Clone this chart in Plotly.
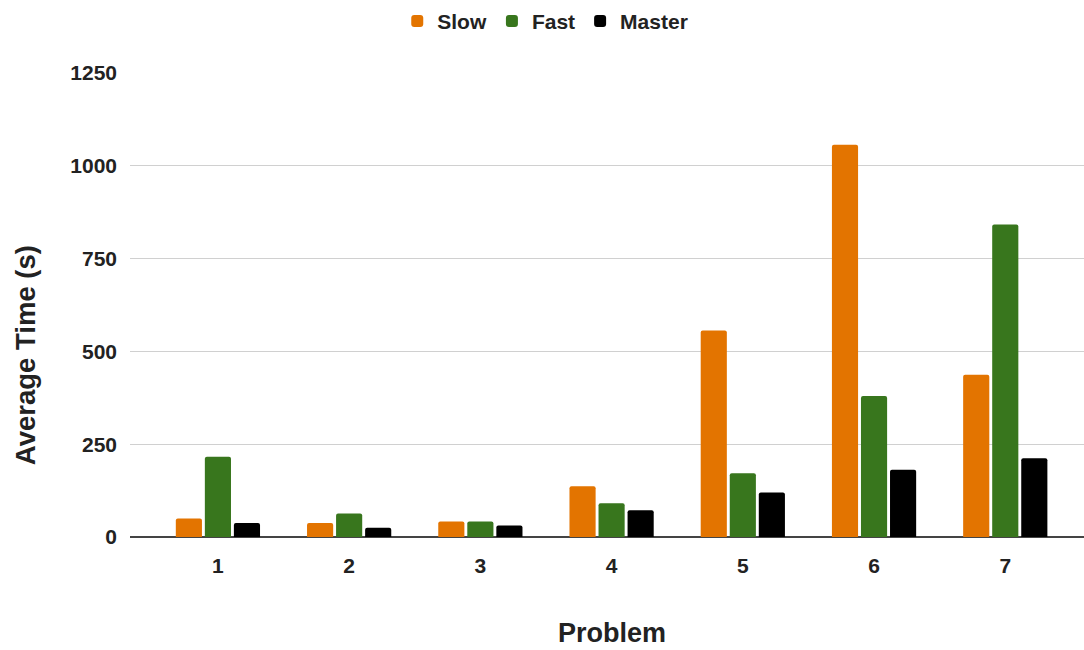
import plotly.graph_objects as go

problems = ["1", "2", "3", "4", "5", "6", "7"]
slow = [50, 38, 42, 137, 556, 1057, 437]
fast = [216, 63, 42, 91, 172, 380, 842]
master = [38, 25, 31, 72, 120, 181, 212]

series = [("Slow", slow, "#E37400"), ("Fast", fast, "#38761D"), ("Master", master, "#000000")]

fig = go.Figure()
for name, vals, col in series:
    fig.add_trace(go.Bar(x=problems, y=vals, name=name, marker=dict(color=col, line=dict(width=0))))

FONT = "Liberation Sans, Arial, sans-serif"
TXT = "#222222"
fig.update_layout(
    width=1084, height=650,
    margin=dict(l=130, r=0, t=73, b=113),
    paper_bgcolor="white", plot_bgcolor="white",
    barmode="group", bargap=0.336, bargroupgap=0.1, barcornerradius=2,
    font=dict(family=FONT, color=TXT),
    legend=dict(orientation="h", x=0.503, xanchor="center", y=0.967, yanchor="middle",
                xref="container", yref="container",
                font=dict(size=21, weight="bold", color=TXT),
                itemwidth=30, traceorder="normal"),
    xaxis=dict(type="category", range=[-0.67, 6.60], showgrid=False, ticks="",
               tickfont=dict(size=21, weight="bold", color=TXT), ticklabelstandoff=14,
               showline=False, zeroline=False),
    yaxis=dict(range=[0, 1250], tickvals=[0, 250, 500, 750, 1000, 1250], showgrid=True,
               gridcolor="#d0d0d0", gridwidth=1, zeroline=True, zerolinecolor="#444444",
               zerolinewidth=1.5, ticks="", ticklabelstandoff=12,
               tickfont=dict(size=21, weight="bold", color=TXT)),
    annotations=[
        dict(text="Average Time (s)", xref="paper", yref="paper", x=-0.110, y=0.392,
             textangle=-90, showarrow=False, xanchor="center", yanchor="middle",
             font=dict(size=27.5, weight="bold", color=TXT)),
        dict(text="Problem", xref="paper", yref="paper", x=0.505, y=-0.207,
             showarrow=False, xanchor="center", yanchor="middle",
             font=dict(size=27, weight="bold", color=TXT)),
    ],
)
fig.write_html("out.html", config={"displayModeBar": False},
               post_script="document.body.style.margin='0';")
